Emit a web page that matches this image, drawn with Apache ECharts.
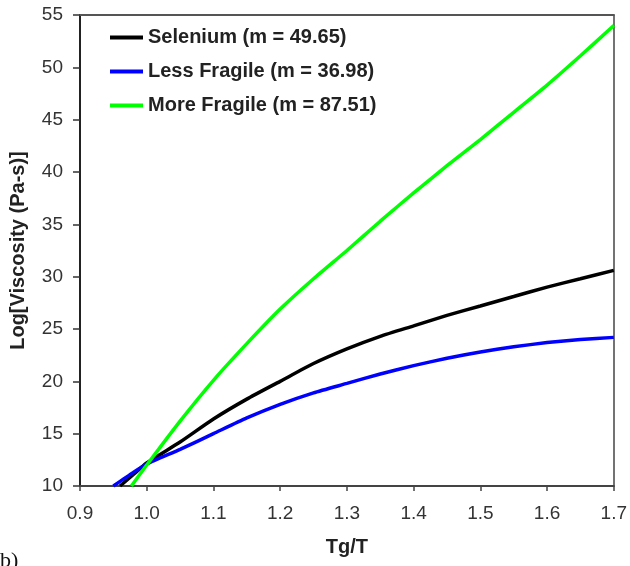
<!DOCTYPE html>
<html>
<head>
<meta charset="utf-8">
<script src="https://cdn.jsdelivr.net/npm/echarts@6/dist/echarts.min.js"></script>
<style>html,body{margin:0;padding:0;background:#fff;}#c{width:630px;height:566px;}</style>
</head>
<body>
<div id="c"></div>
<script>
// Data
const seleniumX = [0.96, 0.98, 1.0, 1.05, 1.1, 1.15, 1.2, 1.25, 1.3, 1.35, 1.4, 1.45, 1.5, 1.55, 1.6, 1.65, 1.7];
const seleniumY = [10, 11.1, 12.2, 14.2, 16.4, 18.3, 20.0, 21.7, 23.1, 24.3, 25.3, 26.3, 27.2, 28.1, 29.0, 29.8, 30.6];
const lessX = [0.95, 0.98, 1.0, 1.05, 1.1, 1.15, 1.2, 1.25, 1.3, 1.35, 1.4, 1.45, 1.5, 1.55, 1.6, 1.65, 1.7];
const lessY = [10, 11.3, 12.1, 13.5, 15.0, 16.5, 17.8, 18.9, 19.8, 20.7, 21.5, 22.2, 22.8, 23.3, 23.7, 24.0, 24.2];
const moreX = [0.977, 1.0, 1.05, 1.1, 1.15, 1.2, 1.25, 1.3, 1.35, 1.4, 1.45, 1.5, 1.55, 1.6, 1.65, 1.7];
const moreY = [10, 12.0, 16.2, 20.1, 23.6, 26.9, 29.8, 32.5, 35.3, 38.0, 40.6, 43.1, 45.7, 48.3, 51.1, 54.0];
const seriesNames = ['Selenium (m = 49.65)', 'Less Fragile (m = 36.98)', 'More Fragile (m = 87.51)'];
const xTitle = 'Tg/T';
const yTitle = 'Log[Viscosity (Pa-s)]';
const panelLabel = 'b)';

const pairs = (xs, ys) => xs.map((x, i) => [x, ys[i]]);
const font = 'Arial, "Liberation Sans", sans-serif';

const chart = echarts.init(document.getElementById('c'), null, {renderer: 'canvas'});
const mk = (name, xs, ys, color) => ({
  name, type: 'line', data: pairs(xs, ys), showSymbol: false, symbol: 'none',
  smooth: 0.2,
  lineStyle: {color, width: 3.5}, itemStyle: {color}, clip: true, z: 3
});
chart.setOption({
  animation: false,
  backgroundColor: '#fff',
  grid: {left: 80, right: 14, top: 15, bottom: 80, containLabel: false},
  legend: {
    orient: 'vertical', left: 110, top: 27, padding: 0, itemWidth: 33, itemHeight: 4, itemGap: 13,
    icon: 'rect', selectedMode: false,
    textStyle: {fontFamily: font, fontWeight: 'bold', fontSize: 20, color: '#222', lineHeight: 21},
    data: seriesNames
  },
  xAxis: [{
    type: 'value', min: 0.9, max: 1.7, interval: 0.1, position: 'bottom',
    name: xTitle, nameLocation: 'middle', nameGap: 51,
    nameTextStyle: {fontFamily: font, fontWeight: 'bold', fontSize: 20, color: '#222'},
    axisLine: {show: true, onZero: false, lineStyle: {color: '#444', width: 2}},
    axisTick: {show: true, inside: false, length: 5, lineStyle: {color: '#444', width: 1.5}},
    axisLabel: {fontFamily: font, fontSize: 19, color: '#333', margin: 18, formatter: v => v.toFixed(1)},
    splitLine: {show: false}
  }, {
    type: 'value', min: 0.9, max: 1.7, position: 'top',
    axisLine: {show: true, onZero: false, lineStyle: {color: '#555', width: 2}},
    axisTick: {show: false}, axisLabel: {show: false}, splitLine: {show: false}
  }],
  yAxis: [{
    type: 'value', min: 10, max: 55, interval: 5, position: 'left',
    name: yTitle, nameLocation: 'middle', nameGap: 52,
    nameTextStyle: {fontFamily: font, fontWeight: 'bold', fontSize: 20, color: '#222'},
    axisLine: {show: true, onZero: false, lineStyle: {color: '#222', width: 2}},
    axisTick: {show: true, inside: false, length: 7, lineStyle: {color: '#333', width: 1.5}},
    axisLabel: {fontFamily: font, fontSize: 19, color: '#333', margin: 17},
    splitLine: {show: false}
  }, {
    type: 'value', min: 10, max: 55, position: 'right',
    axisLine: {show: true, onZero: false, lineStyle: {color: '#444', width: 1.5}},
    axisTick: {show: false}, axisLabel: {show: false}, splitLine: {show: false}
  }],
  graphic: [{
    type: 'text', left: 0, top: 550,
    style: {text: panelLabel, font: '22px "Liberation Serif", "DejaVu Serif", serif', fill: '#111'}
  }],
  series: [
    mk(seriesNames[0], seleniumX, seleniumY, '#000000'),
    mk(seriesNames[1], lessX, lessY, '#0000ff'),
    mk(seriesNames[2], moreX, moreY, '#00ff00')
  ]
});
</script>
</body>
</html>
